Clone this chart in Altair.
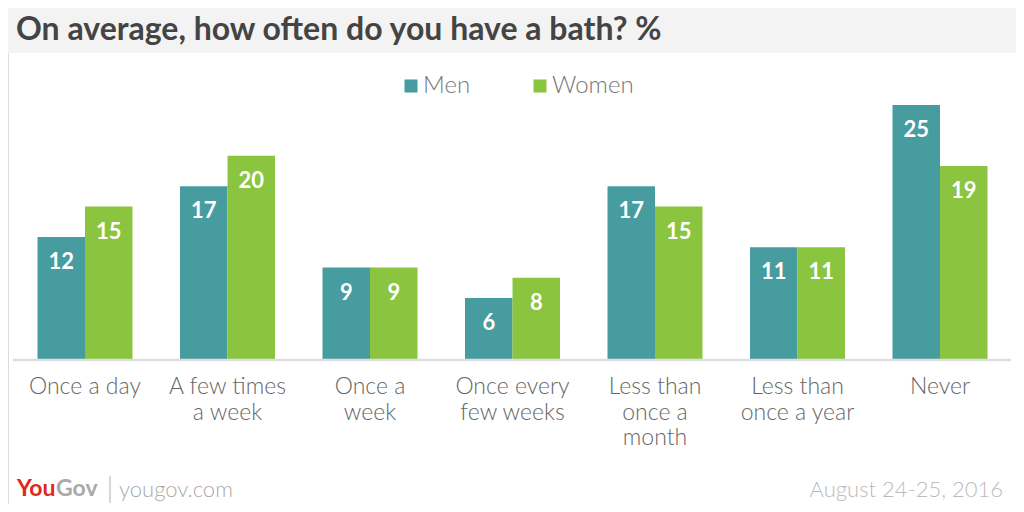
import altair as alt
import pandas as pd

categories = ["Once a day", "A few times\na week", "Once a\nweek", "Once every\nfew weeks",
              "Less than\nonce a\nmonth", "Less than\nonce a year", "Never"]
men = [12, 17, 9, 6, 17, 11, 25]
women = [15, 20, 9, 8, 15, 11, 19]
series = ["Men", "Women"]
colors = ["#469c9e", "#8bc53f"]
title_text = "On average, how often do you have a bath? %"
date_text = "August 24-25, 2016"

rows = []
for i, c in enumerate(categories):
    rows.append({"cat": c, "sex": "Men", "value": men[i]})
    rows.append({"cat": c, "sex": "Women", "value": women[i]})
df = pd.DataFrame(rows)
cat_df = pd.DataFrame({"cat": categories})

W, H = 1008, 496
FONT = "Lato"

xscale = alt.Scale(domain=categories, range=[5.75, 1003.25], paddingInner=1/3, paddingOuter=1/6)
yscale = alt.Scale(domain=[0, 25], range=[351, 97])
cscale = alt.Scale(domain=series, range=colors)
oscale = alt.Scale(domain=series, paddingInner=0, paddingOuter=0)

one = pd.DataFrame({"k": [0]})

band = alt.Chart(one).mark_rect(color="#f3f3f3").encode(
    x=alt.value(-10), x2=alt.value(W + 10), y=alt.value(-10), y2=alt.value(45))

title = alt.Chart(one).mark_text(text=title_text, font=FONT, fontSize=32, fontWeight="bold",
                                 color="#444444", align="left", baseline="alphabetic").encode(
    x=alt.value(8), y=alt.value(32))

bars = alt.Chart(df).mark_bar(size=47.5).encode(
    x=alt.X("cat:N", scale=xscale, axis=None, sort=categories),
    xOffset=alt.XOffset("sex:N", scale=oscale),
    y=alt.Y("value:Q", scale=yscale, axis=None),
    color=alt.Color("sex:N", scale=cscale, legend=alt.Legend(
        title=None, orient="none", legendX=391, legendY=66, direction="horizontal",
        symbolType="square", symbolSize=170, symbolStrokeWidth=0, symbolOpacity=1,
        labelFont=FONT, labelFontSize=24, labelColor="#777777", labelFontWeight=300,
        columnPadding=57, labelOffset=0, padding=0)),
)

labels = alt.Chart(df).mark_text(font=FONT, fontSize=22, fontWeight="bold", color="white",
                                 baseline="middle", dy=25).encode(
    x=alt.X("cat:N", scale=xscale, sort=categories),
    xOffset=alt.XOffset("sex:N", scale=oscale),
    y=alt.Y("value:Q", scale=yscale),
    text=alt.Text("value:Q"),
)

baseline = alt.Chart(one).mark_rule(color="#dddddd", strokeWidth=2.5).encode(
    x=alt.value(5), x2=alt.value(1003), y=alt.value(352))

catlabels = alt.Chart(cat_df).mark_text(font=FONT, fontSize=23, fontWeight=300, color="#666666",
                                        baseline="top", lineBreak="\n", lineHeight=25.5).encode(
    x=alt.X("cat:N", scale=xscale, sort=categories),
    y=alt.value(368),
    text="cat:N",
)

you = alt.Chart(one).mark_text(text="You", font=FONT, fontSize=23, fontWeight="bold",
                               color="#e1261c", align="left", baseline="middle").encode(
    x=alt.value(9), y=alt.value(481))
gov = alt.Chart(one).mark_text(text="Gov", font=FONT, fontSize=23, fontWeight="bold",
                               color="#a9a9a9", align="left", baseline="middle").encode(
    x=alt.value(48), y=alt.value(481))
sep = alt.Chart(one).mark_rule(color="#b0b0b0", strokeWidth=1).encode(
    x=alt.value(102), y=alt.value(468), y2=alt.value(495))
site = alt.Chart(one).mark_text(text="yougov.com", font=FONT, fontSize=22, fontWeight=300,
                                color="#aaaaaa", align="left", baseline="middle").encode(
    x=alt.value(111), y=alt.value(482))
date = alt.Chart(one).mark_text(text=date_text, font=FONT, fontSize=22, fontWeight=300,
                                color="#bbbbbb", align="right", baseline="middle").encode(
    x=alt.value(995), y=alt.value(482))

chart = alt.layer(band, title, bars, labels, baseline, catlabels, you, gov, sep, site, date).properties(
    width=W, height=H, autosize=alt.AutoSizeParams(type="none"), padding=0
).configure_view(stroke=None).configure(background="white")

chart.save("out.html", embed_options={"renderer": "svg", "actions": False})
